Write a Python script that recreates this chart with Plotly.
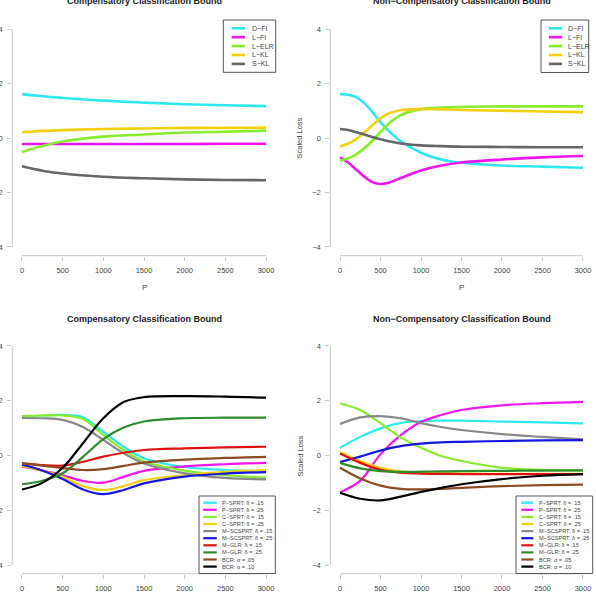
import plotly.graph_objects as go

W, H = 596, 599

# ---------------- data ----------------
P_a = [0, 250, 500, 1000, 1500, 2000, 2500, 3000]
tl_names = ["D−FI", "L−FI", "L−ELR", "L−KL", "S−KL"]
tl_dfi = [1.61, 1.53, 1.47, 1.37, 1.30, 1.24, 1.20, 1.17]
tl_lfi = [-0.22, -0.22, -0.22, -0.22, -0.22, -0.22, -0.21, -0.21]
tl_lelr = [-0.51, -0.29, -0.13, 0.05, 0.13, 0.20, 0.23, 0.27]
tl_lkl = [0.21, 0.26, 0.29, 0.33, 0.35, 0.37, 0.37, 0.38]
tl_skl = [-1.04, -1.20, -1.30, -1.42, -1.48, -1.52, -1.54, -1.55]

P_b = [0, 100, 200, 300, 400, 500, 600, 750, 1000, 1250, 1500, 2000, 2500, 3000]
tr_dfi = [1.61, 1.59, 1.50, 1.28, 0.95, 0.58, 0.26, -0.12, -0.54, -0.79, -0.91, -1.01, -1.05, -1.09]
tr_lfi = [-0.71, -0.90, -1.16, -1.42, -1.62, -1.69, -1.64, -1.47, -1.19, -1.01, -0.90, -0.79, -0.71, -0.66]
tr_lelr = [-0.83, -0.75, -0.60, -0.38, -0.10, 0.22, 0.52, 0.84, 1.06, 1.12, 1.14, 1.16, 1.16, 1.16]
tr_lkl = [-0.31, -0.20, -0.04, 0.20, 0.47, 0.72, 0.90, 1.02, 1.06, 1.05, 1.03, 1.00, 0.97, 0.95]
tr_skl = [0.33, 0.29, 0.21, 0.13, 0.04, -0.05, -0.12, -0.20, -0.27, -0.30, -0.32, -0.33, -0.34, -0.34]

P_c = [0, 250, 500, 750, 1000, 1250, 1500, 2000, 2500, 3000]
b_names = ["P−SPRT: δ = .15", "P−SPRT: δ = .25", "C−SPRT: δ = .15", "C−SPRT: δ = .25",
           "M−SCSPRT: δ = .15", "M−SCSPRT: δ = .25", "M−GLR: δ = .15", "M−GLR: δ = .25",
           "BCR: α = .05", "BCR: α = .10"]
bl_values = [
    [1.42, 1.46, 1.48, 1.40, 0.87, 0.32, -0.10, -0.42, -0.53, -0.57],
    [-0.40, -0.55, -0.72, -0.93, -0.99, -0.78, -0.56, -0.40, -0.32, -0.27],
    [1.44, 1.46, 1.46, 1.33, 0.75, 0.20, -0.22, -0.55, -0.72, -0.81],
    [-0.37, -0.55, -0.78, -1.12, -1.26, -1.12, -0.90, -0.72, -0.60, -0.53],
    [1.37, 1.36, 1.30, 1.04, 0.57, 0.08, -0.29, -0.65, -0.82, -0.87],
    [-0.33, -0.55, -0.86, -1.24, -1.41, -1.26, -1.02, -0.77, -0.66, -0.61],
    [-0.29, -0.35, -0.37, -0.23, -0.04, 0.10, 0.20, 0.26, 0.30, 0.32],
    [-1.05, -0.92, -0.65, -0.05, 0.60, 1.02, 1.24, 1.36, 1.38, 1.38],
    [-0.29, -0.37, -0.46, -0.53, -0.50, -0.38, -0.26, -0.15, -0.09, -0.05],
    [-1.24, -1.00, -0.45, 0.45, 1.36, 1.95, 2.13, 2.17, 2.15, 2.11],
]
br_values = [
    [0.28, 0.68, 0.99, 1.19, 1.26, 1.27, 1.27, 1.24, 1.21, 1.17],
    [-1.35, -0.92, 0.05, 0.74, 1.22, 1.48, 1.66, 1.83, 1.91, 1.96],
    [1.90, 1.66, 1.18, 0.66, 0.28, -0.02, -0.20, -0.45, -0.52, -0.54],
    [0.13, -0.20, -0.45, -0.58, -0.63, -0.65, -0.66, -0.67, -0.67, -0.67],
    [1.15, 1.39, 1.44, 1.36, 1.18, 1.04, 0.93, 0.78, 0.68, 0.59],
    [-0.24, -0.04, 0.18, 0.34, 0.43, 0.48, 0.50, 0.53, 0.55, 0.56],
    [0.07, -0.27, -0.52, -0.63, -0.66, -0.67, -0.68, -0.68, -0.68, -0.68],
    [-0.27, -0.47, -0.57, -0.60, -0.59, -0.58, -0.57, -0.56, -0.55, -0.54],
    [-0.45, -0.84, -1.10, -1.22, -1.24, -1.22, -1.18, -1.12, -1.08, -1.06],
    [-1.36, -1.58, -1.64, -1.50, -1.33, -1.18, -1.05, -0.86, -0.74, -0.68],
]

x_ticks = [0, 500, 1000, 1500, 2000, 2500, 3000]
y_ticks = [-4, -2, 0, 2, 4]

# ---------------- styles ----------------
top_colors = ["#2ee8f0", "#f014f0", "#86ec2c", "#f5d010", "#666666"]
bot_colors = ["#2ee8f0", "#f014f0", "#86ec2c", "#f5d010", "#888888",
              "#1515e0", "#e01010", "#2a8c2a", "#8b4a20", "#000000"]
FONT = "Liberation Sans, Arial, sans-serif"

def px(x):
    return x / W

def py(y):
    return 1 - y / H

fig = go.Figure()

top_series = [(P_a, [tl_dfi, tl_lfi, tl_lelr, tl_lkl, tl_skl]),
              (P_b, [tr_dfi, tr_lfi, tr_lelr, tr_lkl, tr_skl])]
for i, (P, series) in enumerate(top_series):
    ax = "" if i == 0 else str(i + 1)
    for name, vals, col in zip(tl_names, series, top_colors):
        fig.add_trace(go.Scatter(x=P, y=vals, mode="lines", name=name, showlegend=False,
                                 line=dict(color=col, width=2.6, shape="spline", smoothing=1.0),
                                 xaxis="x" + ax, yaxis="y" + ax))
for i, vals_all in enumerate([bl_values, br_values]):
    ax = str(i + 3)
    for name, vals, col in zip(b_names, vals_all, bot_colors):
        fig.add_trace(go.Scatter(x=P_c, y=vals, mode="lines", name=name, showlegend=False,
                                 line=dict(color=col, width=2.2, shape="spline", smoothing=1.0),
                                 xaxis="x" + ax, yaxis="y" + ax))

# panel geometry in pixels (left, right, top, bottom of plot region)
panels = [
    (12.2, 275.8, 20.3, 255.7),
    (330.3, 592.7, 20.3, 255.7),
    (12.2, 275.8, 337.2, 573.8),
    (330.3, 592.7, 337.2, 573.8),
]
AX_COL = "#c8c8c8"
TICK_FONT = dict(family=FONT, size=7.5, color="#444444")
for i, (l, r, t, b) in enumerate(panels):
    k = "" if i == 0 else str(i + 1)
    fig.layout["xaxis" + k] = dict(domain=[px(l), px(r)], range=[-120, 3120], anchor="y" + k,
                                   tickvals=x_ticks, ticks="outside", ticklen=4, tickcolor=AX_COL,
                                   showline=False, showgrid=False, zeroline=False, automargin=False,
                                   tickfont=TICK_FONT, ticklabelstandoff=3, fixedrange=True)
    fig.layout["yaxis" + k] = dict(domain=[py(b), py(t)], range=[-4.32, 4.32], anchor="x" + k,
                                   tickvals=y_ticks, ticks="outside", ticklen=4, tickcolor=AX_COL,
                                   showline=False, showgrid=False, zeroline=False, automargin=False,
                                   tickfont=TICK_FONT, ticklabelstandoff=3, fixedrange=True)
    xr = "x" + k
    yr = "y" + k
    fig.add_shape(type="line", xref=xr, yref=yr + " domain", x0=0, x1=3000, y0=0, y1=0,
                  line=dict(color=AX_COL, width=1))
    fig.add_shape(type="line", xref=xr + " domain", yref=yr, x0=0, x1=0, y0=-4, y1=4,
                  line=dict(color=AX_COL, width=1))

# titles
titles = [("Compensatory Classification Bound", 144, 1.5),
          ("Non−Compensatory Classification Bound", 461.5, 1.5),
          ("Compensatory Classification Bound", 144, 319),
          ("Non−Compensatory Classification Bound", 461.5, 319)]
for txt, x, y in titles:
    fig.add_annotation(text="<b>" + txt + "</b>", x=px(x), y=py(y), xref="paper", yref="paper",
                       showarrow=False, xanchor="center", yanchor="middle",
                       font=dict(family=FONT, size=9, color="#222222"))

# axis labels
for x, y in [(144, 287), (461.5, 287)]:
    fig.add_annotation(text="P", x=px(x), y=py(y), xref="paper", yref="paper", showarrow=False,
                       xanchor="center", yanchor="middle", font=dict(family=FONT, size=8, color="#444444"))
for y in [138, 456]:
    fig.add_annotation(text="Scaled Loss", x=px(299.5), y=py(y), xref="paper", yref="paper",
                       showarrow=False, textangle=-90, xanchor="center", yanchor="middle",
                       font=dict(family=FONT, size=7.5, color="#444444"))

# legends drawn as boxes
def draw_legend(box, first_y, step, lx0, lx1, tx, names, colors, lw, fsize):
    x0, y0, x1, y1 = box
    fig.add_shape(type="rect", xref="paper", yref="paper", x0=px(x0), x1=px(x1), y0=py(y1), y1=py(y0),
                  line=dict(color="#555555", width=1), fillcolor="white", layer="above")
    for j, (n, c) in enumerate(zip(names, colors)):
        yy = first_y + j * step
        fig.add_shape(type="line", xref="paper", yref="paper", x0=px(lx0), x1=px(lx1), y0=py(yy), y1=py(yy),
                      line=dict(color=c, width=lw), layer="above")
        fig.add_annotation(text=n, x=px(tx), y=py(yy), xref="paper", yref="paper", showarrow=False,
                           xanchor="left", yanchor="middle",
                           font=dict(family=FONT, size=fsize, color="#444444"))

draw_legend((223.3, 20, 275.7, 72.3), 28.3, 8.9, 231.7, 245, 249.5, tl_names, top_colors, 2.6, 7)
draw_legend((541, 20, 588.7, 72.5), 28.3, 8.9, 549, 562, 566, tl_names, top_colors, 2.6, 7)
draw_legend((199, 496, 275.3, 573.5), 502.7, 7.1, 203.3, 216.7, 219.5, b_names, bot_colors, 2.2, 5.6)
draw_legend((516, 496, 592.7, 573.5), 502.7, 7.1, 521.3, 533.3, 537, b_names, bot_colors, 2.2, 5.6)

fig.update_layout(width=W, height=H, margin=dict(l=0, r=0, t=0, b=0),
                  paper_bgcolor="white", plot_bgcolor="white", showlegend=False)

fig.write_html("out.html")
